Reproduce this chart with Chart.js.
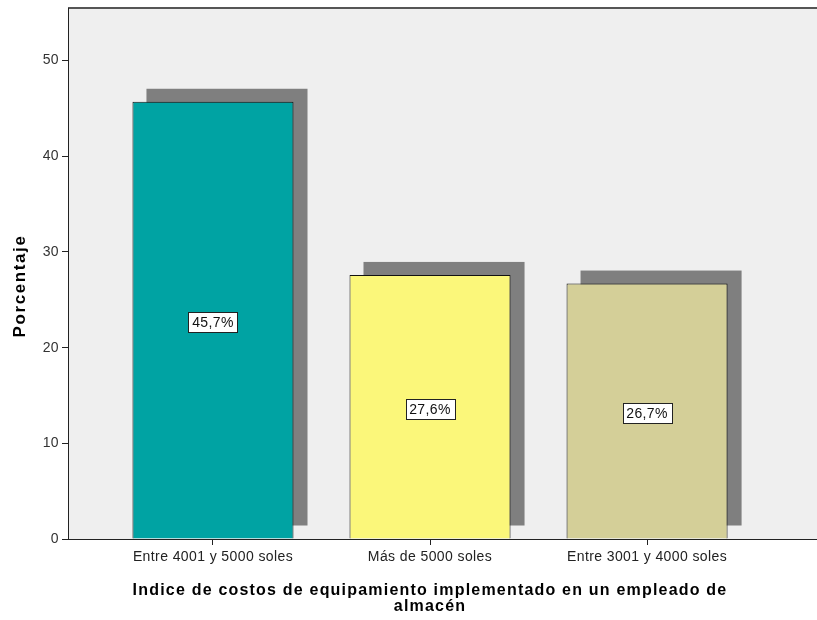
<!DOCTYPE html>
<html>
<head>
<meta charset="utf-8">
<script src="https://cdn.jsdelivr.net/npm/chart.js@4.4.1/dist/chart.umd.min.js"></script>
<style>
  html, body { margin: 0; padding: 0; background: #ffffff; }
  #wrap { width: 817px; height: 620px; position: relative; }
</style>
</head>
<body>
<div id="wrap"><canvas id="c"></canvas></div>
<script>
const categories = ["Entre 4001 y 5000 soles", "Más de 5000 soles", "Entre 3001 y 4000 soles"];
const percentages = [45.7, 27.6, 26.7];
const barColors = ["#00a3a3", "#fbf77a", "#d4cf98"];
const yTickValues = [0, 10, 20, 30, 40, 50];
const yTitle = "Porcentaje";
const xTitleLines = ["Indice de costos de equipamiento implementado en un empleado de", "almacén"];

const FONT = "'Liberation Sans', Arial, sans-serif";

function fmtPct(v) { return v.toFixed(1).replace('.', ',') + '%'; }

const bgPlugin = {
  id: 'bg',
  beforeDraw(chart) {
    const {ctx, chartArea: a} = chart;
    ctx.save();
    ctx.fillStyle = '#ffffff';
    ctx.fillRect(0, 0, chart.width, chart.height);
    ctx.fillStyle = '#efefef';
    ctx.fillRect(a.left, a.top, a.right - a.left, a.bottom - a.top);
    ctx.strokeStyle = '#555555';
    ctx.lineWidth = 2;
    ctx.beginPath();
    ctx.moveTo(a.left, a.top);
    ctx.lineTo(a.right, a.top);
    ctx.stroke();
    ctx.restore();
    ctx.letterSpacing = '0.4px';
  }
};

const shadowPlugin = {
  id: 'shadow',
  beforeDatasetsDraw(chart) {
    const {ctx, chartArea: a} = chart;
    const meta = chart.getDatasetMeta(0);
    ctx.save();
    ctx.beginPath();
    ctx.rect(a.left, a.top, a.right - a.left, a.bottom - a.top);
    ctx.clip();
    ctx.fillStyle = '#7f7f7f';
    meta.data.forEach(el => {
      const p = el.getProps(['x', 'y', 'base', 'width'], true);
      ctx.fillRect(p.x - p.width / 2 + 14, p.y - 13, p.width, p.base - p.y);
    });
    ctx.restore();
  }
};

const labelPlugin = {
  id: 'boxLabels',
  afterDatasetsDraw(chart) {
    const {ctx} = chart;
    const meta = chart.getDatasetMeta(0);
    const ys = chart.scales.y;
    ctx.save();
    ctx.letterSpacing = '0.4px';
    ctx.font = '14px ' + FONT;
    ctx.textAlign = 'center';
    ctx.textBaseline = 'middle';
    meta.data.forEach((el, i) => {
      const v = percentages[i];
      const txt = fmtPct(v);
      const cx = el.x;
      const cy = ys.getPixelForValue(v / 2) + 2;
      const w = Math.round(ctx.measureText(txt).width + 7);
      const h = 20;
      const bx = Math.round(cx - w / 2) + 0.5;
      const by = Math.round(cy - h / 2) + 0.5;
      ctx.fillStyle = '#ffffff';
      ctx.fillRect(bx, by, w, h);
      ctx.strokeStyle = '#222222';
      ctx.lineWidth = 1;
      ctx.strokeRect(bx, by, w, h);
      ctx.fillStyle = '#111111';
      ctx.fillText(txt, cx, cy + 1);
    });
    ctx.restore();
  }
};

const titlePlugin = {
  id: 'axisTitles',
  afterDraw(chart) {
    const {ctx} = chart;
    const xs = chart.scales.x;
    ctx.save();
    ctx.fillStyle = '#000000';
    ctx.textAlign = 'center';
    ctx.textBaseline = 'middle';
    ctx.letterSpacing = '1.2px';
    ctx.font = 'bold 16px ' + FONT;
    const cx = (xs.getPixelForValue(0) + xs.getPixelForValue(2)) / 2;
    xTitleLines.forEach((line, i) => ctx.fillText(line, cx, 591 + i * 16));
    ctx.translate(20, 286);
    ctx.rotate(-Math.PI / 2);
    ctx.letterSpacing = '1.6px';
    ctx.font = 'bold 17px ' + FONT;
    ctx.fillText(yTitle, 0, 0);
    ctx.restore();
  }
};

new Chart(document.getElementById('c'), {
  type: 'bar',
  data: {
    datasets: [{
      data: percentages.map((v, i) => ({x: i, y: v})),
      backgroundColor: barColors,
      borderColor: '#111111',
      borderWidth: 1,
      barPercentage: 0.742,
      categoryPercentage: 1.0
    }]
  },
  options: {
    responsive: true,
    maintainAspectRatio: false,
    animation: false,
    layout: { padding: { top: 8, right: 0, left: 0, bottom: 0 } },
    plugins: { legend: { display: false }, tooltip: { enabled: false } },
    scales: {
      x: {
        type: 'linear',
        offset: false,
        min: -0.668,
        max: 2.783,
        afterBuildTicks(scale) { scale.ticks = categories.map((c, i) => ({value: i})); },
        afterFit(scale) { scale.height = 81; scale.paddingLeft = 0; scale.paddingRight = 0; },
        ticks: {
          callback: (v) => categories[v],
          font: { family: FONT, size: 14 },
          color: '#222222',
          padding: 4,
          maxRotation: 0,
          autoSkip: false
        },
        grid: { display: true, offset: false, drawOnChartArea: false, drawTicks: true, tickLength: 6, color: '#222222' },
        border: { display: true, color: '#222222', width: 1 }
      },
      y: {
        min: 0,
        max: 55.5,
        afterBuildTicks(scale) { scale.ticks = yTickValues.map(v => ({value: v})); },
        afterFit(scale) { scale.width = 68; scale.paddingTop = 0; scale.paddingBottom = 0; },
        ticks: {
          font: { family: FONT, size: 14 },
          color: '#333333',
          padding: 3
        },
        grid: { display: true, drawOnChartArea: false, drawTicks: true, tickLength: 6, color: '#222222' },
        border: { display: true, color: '#222222', width: 1 }
      }
    }
  },
  plugins: [bgPlugin, shadowPlugin, labelPlugin, titlePlugin]
});
</script>
</body>
</html>
